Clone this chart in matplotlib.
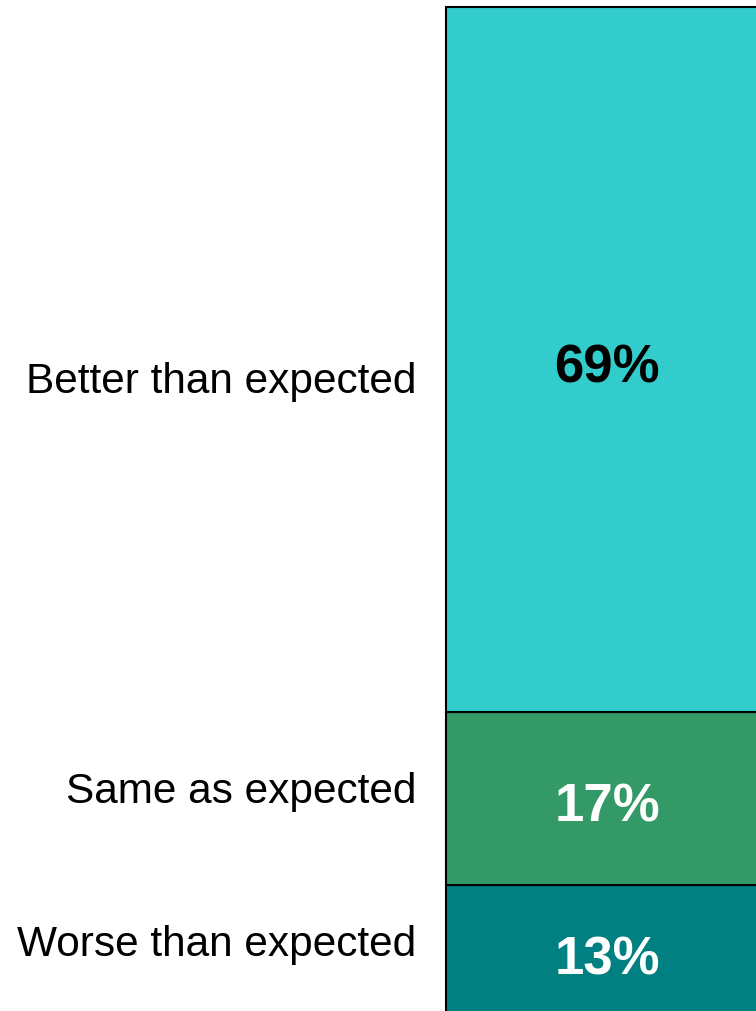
import matplotlib.pyplot as plt

# stacked shares, bottom to top
categories = ["Worse than expected", "Same as expected", "Better than expected"]
shares = [13, 17, 69]
colors = ["#008080", "#339966", "#33CCCC"]
text_colors = ["white", "white", "black"]

plt.rcParams["font.family"] = ["Liberation Sans", "DejaVu Sans"]

fig = plt.figure(figsize=(7.56, 10.12), dpi=100)
# bar runs off the right and bottom edges
ax = fig.add_axes([446 / 756, -7 / 1012, 322 / 756, 1011 / 1012])

total = sum(shares)
bottom = 0
# vertical nudges for the category names (points)
nudge = {"Worse than expected": 5.5, "Same as expected": 5.5, "Better than expected": -15.5}
for cat, val, col, tc in zip(categories, shares, colors, text_colors):
    ax.bar(0.5, val, width=1.0, bottom=bottom, color=col,
           edgecolor="black", linewidth=1.5, clip_on=False)
    mid = bottom + val / 2
    ax.annotate(f"{val}%", (0.5, mid), xytext=(0, -6), textcoords="offset points",
                ha="center", va="center", fontsize=38, fontweight="bold", color=tc)
    ax.annotate(cat, (-30 / 322, mid), xytext=(0, nudge[cat]),
                textcoords="offset points", xycoords=ax.get_yaxis_transform(),
                ha="right", va="center", fontsize=30.5, color="black")
    bottom += val

ax.set_xlim(0, 1)
ax.set_ylim(0, total)
ax.axis("off")

fig.savefig("out.png", dpi=100)
